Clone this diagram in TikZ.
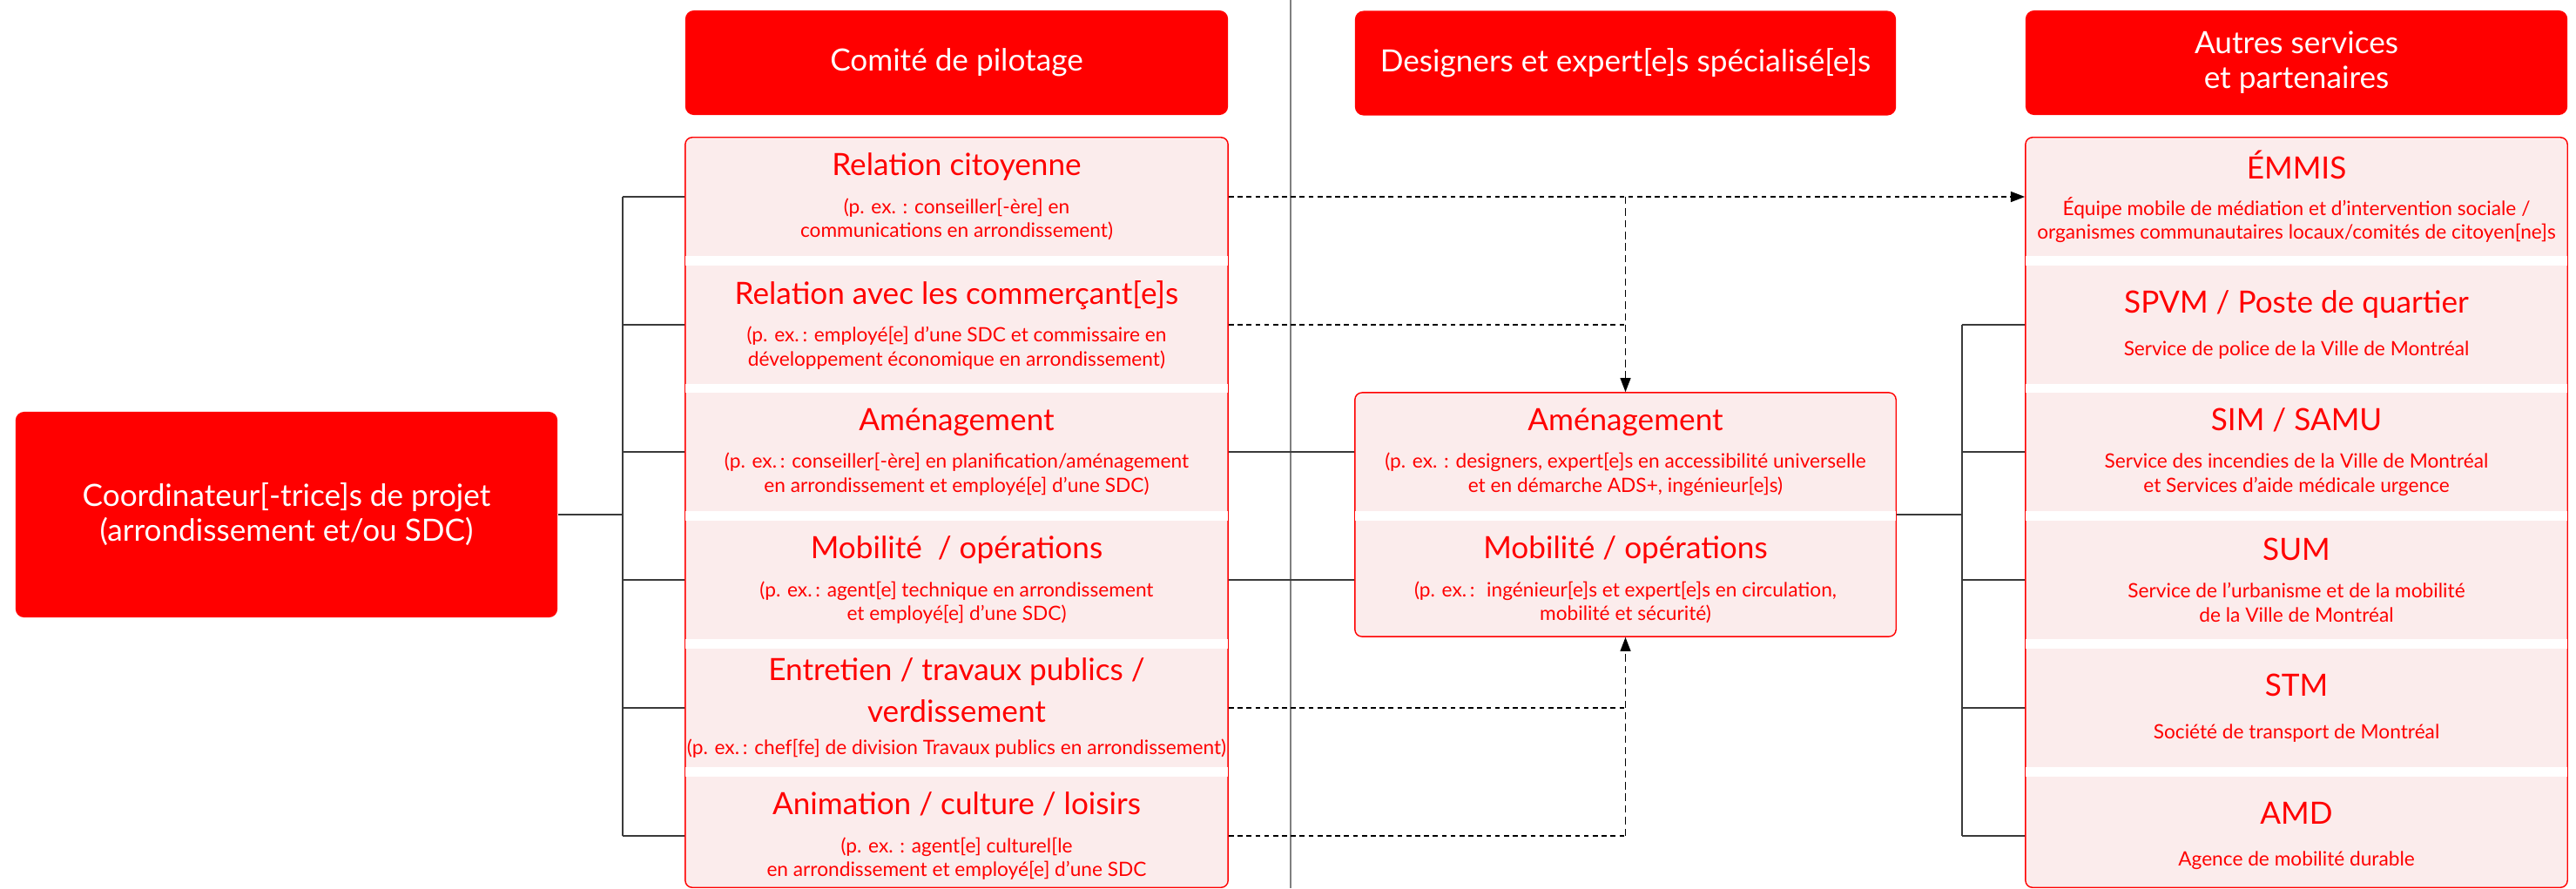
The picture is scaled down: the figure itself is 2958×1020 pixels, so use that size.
\documentclass[tikz,border=0pt]{standalone}
\usepackage{fontspec}
\setmainfont{Lato}
\usetikzlibrary{arrows.meta,calc}
\definecolor{red0}{RGB}{255,0,0}
\definecolor{pink0}{RGB}{251,236,236}
\definecolor{conn0}{RGB}{58,58,58}
\definecolor{sep0}{RGB}{128,128,128}
\newcommand\ttlf{\fontsize{10}{11.4}\selectfont}
\newcommand\subf{\fontsize{6.45}{7.8}\selectfont}
\newcommand\hdrf{\fontsize{10}{11.4}\selectfont}
\begin{document}
\begin{tikzpicture}[x=0.01cm,y=-0.01cm,
 hdrbox/.style={fill=red0, rounded corners=2.8pt, text=white, align=center, font=\hdrf, inner sep=0pt, minimum height=1.2cm},
 colbox/.style={fill=pink0, draw=red0, line width=0.4pt, rounded corners=2.3pt, inner sep=0pt},
 secbox/.style={inner sep=0pt, minimum height=1.34cm, align=center, text=red0, font=\subf},
 connline/.style={draw=conn0, line width=0.6pt},
 dashh/.style={draw=black, line width=0.45pt, dash pattern=on 1.6pt off 1.3pt},
 dashv/.style={draw=black, line width=0.45pt, dash pattern=on 2.4pt off 1.4pt},
 arrowend/.style={-{Triangle[length=4.6pt,width=3.4pt]}},
]
\useasboundingbox (0,0) rectangle (2958,1020);
% separator
\draw[draw=sep0, line width=0.55pt] (1482,0) -- (1482,1020);

% headers
\node[hdrbox, minimum width=6.22cm, minimum height=2.36cm] (coord) at (329,591) {Coordinateur[-trice]s de projet\\(arrondissement et/ou SDC)};
\node[hdrbox, minimum width=6.23cm] (hcom) at (1098.5,72) {Comité de pilotage};
\node[hdrbox, minimum width=6.21cm] (hdes) at (1866.5,72.5) {Designers et expert[e]s spécialisé[e]s};
\node[hdrbox, minimum width=6.22cm] (haut) at (2637,72) {Autres services\\et partenaires};

% column boxes
\node[colbox, minimum width=6.23cm, minimum height=8.61cm] (Lbox) at (1098.5,588.5) {};
\node[colbox, minimum width=6.21cm, minimum height=2.80cm] (Mbox) at (1866.5,591) {};
\node[colbox, minimum width=6.22cm, minimum height=8.61cm] (Rbox) at (2637,588.5) {};

% left sections
\node[secbox, minimum width=6.21cm] (L1) at (1098.5,226) {\ttlf Relation citoyenne\\[4.6pt](p. ex. : conseiller[-ère] en\\communications en arrondissement)};
\node[secbox, minimum width=6.21cm] (L2) at (1098.5,373) {\ttlf Relation avec les commerçant[e]s\\[4.6pt](p. ex.\,: employé[e] d’une SDC et commissaire en\\développement économique en arrondissement)};
\node[secbox, minimum width=6.21cm] (L3) at (1098.5,519) {\ttlf Aménagement\\[4.6pt](p. ex.\,: conseiller[-ère] en planification/aménagement\\en arrondissement et employé[e] d’une SDC)};
\node[secbox, minimum width=6.21cm] (L4) at (1098.5,666) {\ttlf Mobilité~ / opérations\\[4.6pt](p. ex.\,: agent[e] technique en arrondissement\\et employé[e] d’une SDC)};
\node[secbox, minimum width=6.21cm] (L5) at (1098.5,813) {\ttlf Entretien / travaux publics /\\[3.6pt]\ttlf verdissement\\[2.7pt](p. ex.\,: chef[fe] de division Travaux publics en arrondissement)};
\node[secbox, minimum width=6.21cm] (L6) at (1098.5,960) {\ttlf Animation / culture / loisirs\\[4.6pt](p. ex. : agent[e] culturel[le\\en arrondissement et employé[e] d’une SDC};

% middle sections
\node[secbox, minimum width=6.19cm] (M1) at (1866.5,519) {\ttlf Aménagement\\[4.6pt](p. ex. : designers, expert[e]s en accessibilité universelle\\et en démarche ADS+, ingénieur[e]s)};
\node[secbox, minimum width=6.19cm] (M2) at (1866.5,666) {\ttlf Mobilité / opérations\\[4.6pt](p. ex.\,:~ ingénieur[e]s et expert[e]s en circulation,\\mobilité et sécurité)};

% right sections
\node[secbox, minimum width=6.20cm] (R1) at (2637,226) {\ttlf ÉMMIS\\[4pt]Équipe mobile de médiation et d’intervention sociale /\\organismes communautaires locaux/comités de citoyen[ne]s};
\node[secbox, minimum width=6.20cm] (R2) at (2637,373) {\ttlf SPVM / Poste de quartier\\[6pt]Service de police de la Ville de Montréal};
\node[secbox, minimum width=6.20cm] (R3) at (2637,519) {\ttlf SIM / SAMU\\[4.6pt]Service des incendies de la Ville de Montréal\\et Services d’aide médicale urgence};
\node[secbox, minimum width=6.20cm] (R4) at (2637,666) {\ttlf SUM\\[4.6pt]Service de l’urbanisme et de la mobilité\\de la Ville de Montréal};
\node[secbox, minimum width=6.20cm] (R5) at (2637,813) {\ttlf STM\\[6pt]Société de transport de Montréal};
\node[secbox, minimum width=6.20cm] (R6) at (2637,960) {\ttlf AMD\\[6pt]Agence de mobilité durable};

% white gaps
\foreach \a/\b in {L1/L2,L2/L3,L3/L4,L4/L5,L5/L6,M1/M2,R1/R2,R2/R3,R3/R4,R4/R5,R5/R6}
  \fill[white] (\a.south west) rectangle (\b.north east);

% left tree
\coordinate (jL) at (715,591);
\draw[connline] (coord.east) -- (jL);
\draw[connline] (L1.west -| jL) -- (L6.west -| jL);
\foreach \n in {L1,L2,L3,L4,L5,L6}
  \draw[connline] (\n.west -| jL) -- (\n.west -| Lbox.west);

% left to middle
\draw[connline] (L3.east -| Lbox.east) -- (M1.west -| Mbox.west);
\draw[connline] (L4.east -| Lbox.east) -- (M2.west -| Mbox.west);

% right tree
\coordinate (jR) at (2253,591);
\draw[connline] (Mbox.east) -- (jR);
\draw[connline] (R2.west -| jR) -- (R6.west -| jR);
\foreach \n in {R2,R3,R4,R5,R6}
  \draw[connline] (\n.west -| jR) -- (\n.west -| Rbox.west);

% dashed
\coordinate (dTop) at (Mbox.north |- L1.east);
\coordinate (dBot) at (Mbox.south |- L6.east);
\draw[dashh, arrowend] (L1.east -| Lbox.east) -- (R1.west -| Rbox.west);
\draw[dashh] (L2.east -| Lbox.east) -- (L2.east -| Mbox.north);
\draw[dashv, arrowend] (dTop) -- (Mbox.north);
\draw[dashh] (L5.east -| Lbox.east) -- (L5.east -| Mbox.south);
\draw[dashh] (L6.east -| Lbox.east) -- (dBot);
\draw[dashv, arrowend] (dBot) -- (Mbox.south);
\end{tikzpicture}
\end{document}
